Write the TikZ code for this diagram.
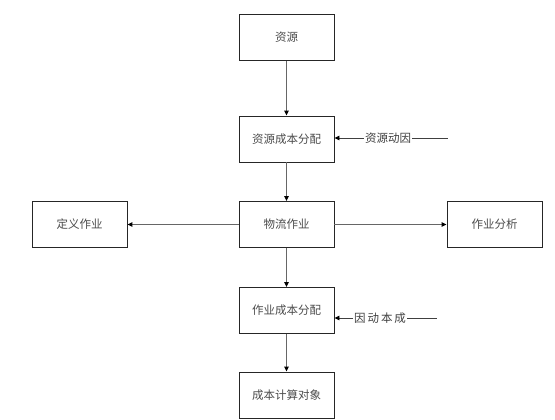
\documentclass[tikz,border=0pt]{standalone}
\usepackage{fontspec}
\newfontfamily\cjk{Noto Sans CJK SC}
\usetikzlibrary{arrows.meta}
\begin{document}
\begin{tikzpicture}[x=1pt,y=-1pt,
  box/.style={draw=black!85,line width=0.9pt,minimum width=95pt,minimum height=46pt,inner sep=0pt,font=\cjk\fontsize{11.5}{13}\selectfont,text=black!70},
  conn/.style={draw=black!60,line width=1.1pt,-{Triangle[length=5pt,width=4.5pt,color=black]}},
  lbl/.style={font=\cjk\fontsize{11.5}{13}\selectfont,text=black!75,inner sep=1pt}]
\useasboundingbox (0,0) rectangle (555,420);
\fill[white] (0,0) rectangle (555,420);
\node[box] (zy) at (286.5,37.5) {资源};
\node[box] (zycb) at (286.5,139) {资源成本分配};
\node[box] (wl) at (286.5,224.5) {物流作业};
\node[box] (dy) at (79.5,224.5) {定义作业};
\node[box] (fx) at (494.5,224.5) {作业分析};
\node[box] (zycp) at (286.5,310.5) {作业成本分配};
\node[box] (cbjs) at (286.5,395) {成本计算对象};
\draw[conn] (zy) -- (zycb);
\draw[conn] (zycb) -- (wl);
\draw[conn] (wl) -- (dy);
\draw[conn] (wl) -- (fx);
\draw[conn] (wl) -- (zycp);
\draw[conn] (zycp) -- (cbjs);
\node[lbl,anchor=west] (yd1) at (364,138) {资源动因};
\coordinate (e1) at (448,138);
\draw[draw=black!75,line width=0.9pt] (yd1.east) -- (e1);
\draw[conn,draw=black!75,line width=0.9pt] (yd1.west) -- (zycb.east |- yd1.west);
\node[lbl,anchor=west] (yd2) at (353,318) {因\,动\,本\,成};
\coordinate (e2) at (437,318);
\draw[draw=black!75,line width=0.9pt] (yd2.east) -- (e2);
\draw[conn,draw=black!75,line width=0.9pt] (yd2.west) -- (zycp.east |- yd2.west);
\end{tikzpicture}
\end{document}
